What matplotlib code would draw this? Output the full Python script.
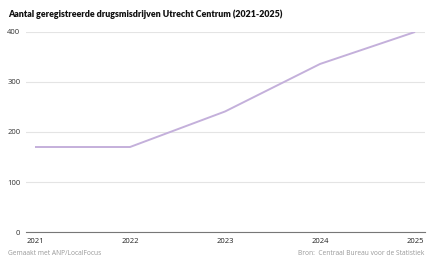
import matplotlib.pyplot as plt

years = [2021, 2022, 2023, 2024, 2025]
cases = [170, 170, 241, 336, 400]
yticks = [0, 100, 200, 300, 400]

plt.rcParams['font.family'] = ['Open Sans', 'DejaVu Sans']

fig = plt.figure(figsize=(4.4, 2.64), dpi=100)
fig.patch.set_facecolor('white')
ax = fig.add_axes([0.059, 0.121, 0.907, 0.758])

ax.plot(years, cases, color='#c4b0db', linewidth=1.4, solid_capstyle='butt')

ax.set_xlim(2020.905, 2025.105)
ax.set_ylim(0, 400)
ax.set_yticks(yticks)
ax.set_xticks(years)
ax.set_xticklabels([str(y) for y in years])
ax.grid(axis='y', color='#e4e4e4', linewidth=0.8)
ax.set_axisbelow(True)
for s in ['top', 'right', 'left']:
    ax.spines[s].set_visible(False)
ax.spines['bottom'].set_color('#777777')
ax.spines['bottom'].set_linewidth(0.8)
ax.tick_params(axis='y', length=0, pad=4, labelsize=5.5, labelcolor='#333333')
ax.tick_params(axis='x', length=0, pad=4, labelsize=5.5, labelcolor='#222222')

fig.text(0.018, 0.945, 'Aantal geregistreerde drugsmisdrijven Utrecht Centrum (2021-2025)',
         fontsize=6.4, fontweight='heavy', color='#111111', va='center', family=['Lato', 'DejaVu Sans'])
fig.text(0.018, 0.04, 'Gemaakt met ANP/LocalFocus', fontsize=4.8, color='#999999', va='center')
fig.text(0.964, 0.04, 'Bron:  Centraal Bureau voor de Statistiek', fontsize=4.8,
         color='#999999', va='center', ha='right')

fig.savefig('out.png', dpi=100)
